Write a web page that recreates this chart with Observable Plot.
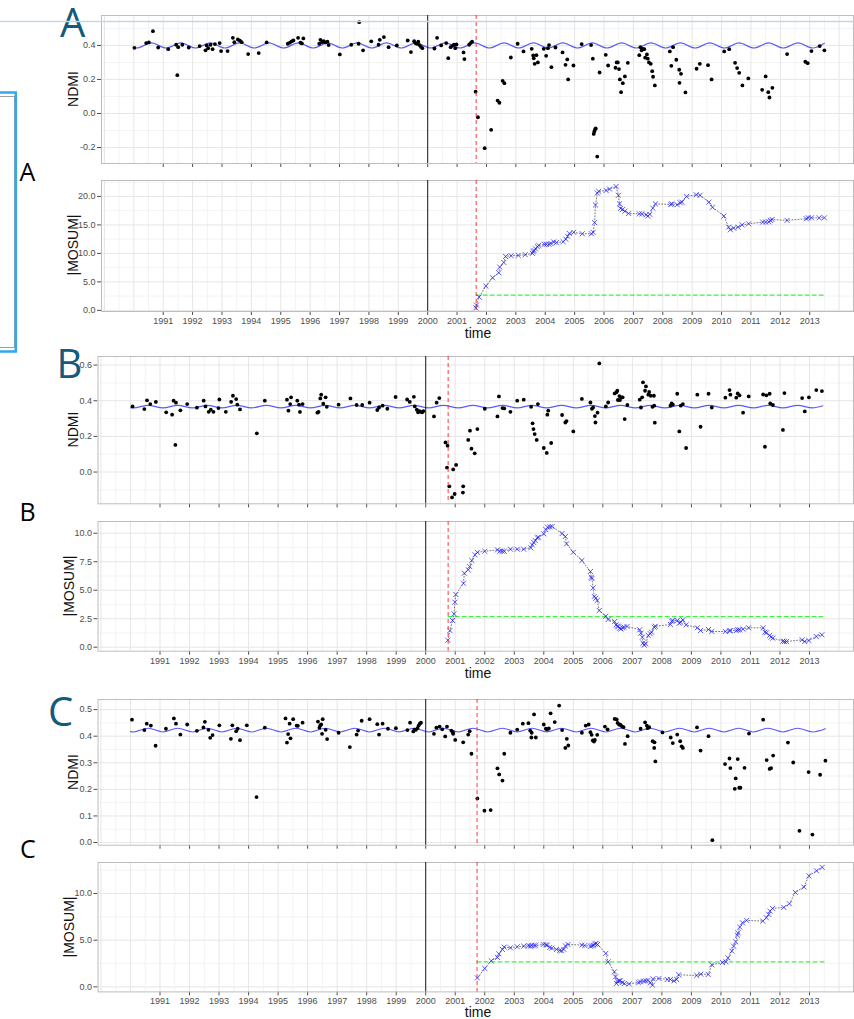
<!DOCTYPE html>
<html><head><meta charset="utf-8">
<script src="https://cdn.jsdelivr.net/npm/d3@7"></script>
<script src="https://cdn.jsdelivr.net/npm/@observablehq/plot@0.6"></script>
<style>
body{margin:0;background:#fff;}
#wrap{position:relative;width:854px;height:1019px;overflow:hidden;background:#fff;font-family:"Liberation Sans",Arial,sans-serif;}
.panel{position:absolute;left:0;}
#overlay{position:absolute;left:0;top:0;pointer-events:none;}
</style></head><body><div id="wrap"></div>
<script>
// ---------- data ----------
const years = [1991,1992,1993,1994,1995,1996,1997,1998,1999,2000,2001,2002,2003,2004,2005,2006,2007,2008,2009,2010,2011,2012,2013];
const gridMajorX = [1989,1990,1991,1992,1993,1994,1995,1996,1997,1998,1999,2000,2001,2002,2003,2004,2005,2006,2007,2008,2009,2010,2011,2012,2013,2014];
const gridMinorX = [1989.5,1990.5,1991.5,1992.5,1993.5,1994.5,1995.5,1996.5,1997.5,1998.5,1999.5,2000.5,2001.5,2002.5,2003.5,2004.5,2005.5,2006.5,2007.5,2008.5,2009.5,2010.5,2011.5,2012.5,2013.5];
const historyEnd = 2000;
const breakA = 2001.65, breakB = 2000.76, breakC = 2001.74;
const boundaryA = [[2001.65,2.68],[2013.5,2.68]];
const boundaryB = [[2000.76,2.68],[2013.45,2.68]];
const boundaryC = [[2001.74,2.68],[2013.54,2.68]];

const ndmiA = [[1990.02,0.386],[1990.42,0.414],[1990.51,0.418],[1990.65,0.484],[1990.83,0.388],
[1991.17,0.378],[1991.44,0.404],[1991.48,0.225],[1991.51,0.39],[1991.65,0.404],[1991.87,0.388],
[1992.24,0.396],[1992.44,0.371],[1992.48,0.4],[1992.53,0.384],[1992.61,0.404],[1992.68,0.378],[1992.76,0.408],[1992.92,0.414],[1992.97,0.367],
[1993.19,0.367],[1993.37,0.445],[1993.42,0.419],[1993.54,0.435],[1993.61,0.428],[1993.67,0.419],[1993.89,0.349],
[1994.25,0.355],[1994.52,0.418],
[1995.24,0.41],[1995.31,0.416],[1995.37,0.424],[1995.43,0.429],[1995.59,0.445],[1995.67,0.416],[1995.72,0.412],[1995.77,0.441],
[1996.31,0.41],[1996.35,0.433],[1996.41,0.419],[1996.46,0.425],[1996.52,0.418],[1996.59,0.422],[1996.63,0.402],
[1997.01,0.347],[1997.40,0.404],[1997.65,0.41],[1997.67,0.537],[1997.80,0.371],
[1998.08,0.424],[1998.33,0.404],[1998.37,0.433],[1998.51,0.449],[1998.67,0.39],[1998.95,0.4],
[1999.32,0.429],[1999.43,0.361],[1999.54,0.425],[1999.58,0.414],[1999.63,0.41],[1999.68,0.422],[1999.72,0.402],[1999.77,0.392],[1999.82,0.384],
[2000.23,0.382],[2000.32,0.445],[2000.46,0.4],[2000.63,0.414],[2000.70,0.325],[2000.78,0.39],[2000.84,0.398],[2000.89,0.404],[2000.94,0.384],[2000.98,0.406],
[2001.22,0.359],[2001.25,0.32],[2001.41,0.404],[2001.46,0.414],[2001.51,0.422],[2001.63,0.128],[2001.71,-0.022],[2001.94,-0.204],
[2002.16,-0.096],[2002.38,0.076],[2002.44,0.063],[2002.55,0.192],[2002.61,0.178],[2002.83,0.329],
[2003.06,0.41],[2003.26,0.365],[2003.54,0.38],[2003.59,0.341],[2003.61,0.324],[2003.64,0.292],[2003.70,0.343],[2003.75,0.3],[2003.95,0.38],
[2004.03,0.339],[2004.09,0.384],[2004.13,0.402],[2004.21,0.272],[2004.35,0.388],[2004.59,0.359],[2004.69,0.286],[2004.75,0.318],[2004.78,0.2],[2004.96,0.282],
[2005.24,0.408],[2005.56,0.402],[2005.62,0.322],[2005.65,-0.12],[2005.67,-0.106],[2005.70,-0.092],[2005.72,-0.088],[2005.77,-0.253],[2005.85,0.241],
[2006.06,0.345],[2006.14,0.282],[2006.39,0.269],[2006.43,0.3],[2006.47,0.3],[2006.51,0.261],[2006.54,0.2],[2006.58,0.125],[2006.64,0.178],[2006.71,0.218],[2006.81,0.298],
[2007.20,0.343],[2007.24,0.39],[2007.28,0.371],[2007.32,0.38],[2007.37,0.378],[2007.40,0.328],[2007.46,0.347],[2007.49,0.322],[2007.53,0.3],[2007.59,0.292],[2007.64,0.249],[2007.67,0.216],[2007.73,0.165],
[2008.24,0.365],[2008.29,0.28],[2008.35,0.39],[2008.46,0.316],[2008.56,0.257],[2008.57,0.18],[2008.62,0.233],[2008.77,0.124],
[2009.15,0.263],[2009.26,0.292],[2009.54,0.284],[2009.66,0.2],
[2010.09,0.365],[2010.26,0.378],[2010.46,0.298],[2010.53,0.267],[2010.60,0.239],[2010.71,0.165],[2010.91,0.206],
[2011.38,0.139],[2011.50,0.218],[2011.59,0.125],[2011.63,0.094],[2011.73,0.151],
[2012.23,0.349],[2012.85,0.304],[2012.93,0.296],[2013.06,0.367],[2013.34,0.396],[2013.50,0.371]];

const mosumA = [[2001.64,0.45],[2001.66,0.93],[2001.75,2.33],[2001.98,4.27],[2002.21,5.73],[2002.42,6.61],[2002.45,7.6],[2002.59,8.42],[2002.65,9.47],[2002.84,9.59],[2003.08,9.65],[2003.32,9.77],[2003.56,10.0],[2003.59,10.3],[2003.62,10.5],[2003.67,10.8],[2003.73,11.2],[2003.78,11.4],[2003.97,11.6],[2004.04,11.6],[2004.13,11.6],[2004.19,11.75],[2004.29,12.0],[2004.38,11.9],[2004.61,12.05],[2004.70,12.5],[2004.76,13.0],[2004.82,13.5],[2004.97,13.7],[2005.26,13.45],[2005.57,13.45],[2005.63,13.7],[2005.68,15.4],[2005.71,18.5],[2005.77,20.6],[2005.82,20.9],[2006.07,21.05],[2006.19,21.3],[2006.41,21.75],[2006.49,20.2],[2006.53,18.7],[2006.56,17.9],[2006.63,17.7],[2006.71,17.4],[2006.84,17.0],[2007.20,16.95],[2007.29,16.95],[2007.43,16.8],[2007.49,16.55],[2007.56,16.85],[2007.66,17.95],[2007.75,18.7],[2008.27,18.6],[2008.31,18.7],[2008.49,18.55],[2008.59,18.9],[2008.65,19.0],[2008.81,20.0],[2009.14,20.3],[2009.27,20.2],[2009.57,19.0],[2009.69,18.1],[2010.08,16.55],[2010.24,14.6],[2010.30,14.15],[2010.41,14.45],[2010.56,14.6],[2010.70,15.0],[2010.92,15.2],[2011.40,15.5],[2011.50,15.5],[2011.61,15.55],[2011.66,15.8],[2011.72,15.95],[2012.23,15.8],[2012.88,16.1],[2012.95,16.25],[2013.06,16.25],[2013.32,16.25],[2013.50,16.25]];

const ndmiB = [[1990.07,0.368],[1990.47,0.353],[1990.56,0.402],[1990.67,0.381],[1990.86,0.393],
[1991.21,0.335],[1991.41,0.322],[1991.46,0.4],[1991.52,0.152],[1991.54,0.389],[1991.69,0.346],[1991.92,0.381],
[1992.25,0.361],[1992.48,0.4],[1992.54,0.368],[1992.65,0.338],[1992.72,0.35],[1992.81,0.338],[1992.98,0.359],[1993.01,0.407],
[1993.23,0.338],[1993.41,0.394],[1993.47,0.428],[1993.58,0.409],[1993.62,0.378],[1993.71,0.351],
[1994.28,0.217],[1994.55,0.4],
[1995.30,0.406],[1995.35,0.344],[1995.41,0.381],[1995.44,0.419],[1995.65,0.4],[1995.71,0.378],[1995.74,0.337],[1995.83,0.381],
[1996.33,0.333],[1996.37,0.337],[1996.43,0.413],[1996.46,0.434],[1996.53,0.383],[1996.61,0.419],[1996.65,0.366],
[1997.05,0.378],[1997.45,0.413],[1997.66,0.376],[1997.85,0.376],[1998.10,0.389],
[1998.36,0.348],[1998.42,0.362],[1998.54,0.372],[1998.70,0.355],[1998.98,0.421],
[1999.37,0.407],[1999.46,0.393],[1999.60,0.422],[1999.63,0.368],[1999.70,0.35],[1999.74,0.335],[1999.79,0.342],[1999.83,0.338],[1999.88,0.335],[1999.92,0.342],
[2000.28,0.312],[2000.37,0.389],[2000.46,0.415],[2000.67,0.166],[2000.74,0.148],[2000.72,0.025],[2000.80,-0.08],[2000.89,-0.142],[2000.93,0.015],[2000.98,-0.123],[2001.03,0.04],
[2001.26,-0.115],[2001.27,-0.08],[2001.44,0.18],[2001.50,0.232],[2001.55,0.131],[2001.66,0.105],[2001.75,0.241],
[2002.0,0.355],[2002.43,0.312],[2002.48,0.424],[2002.60,0.359],[2002.66,0.357],[2002.87,0.338],
[2003.10,0.4],[2003.32,0.406],[2003.57,0.366],[2003.62,0.273],[2003.65,0.241],[2003.69,0.213],[2003.76,0.18],[2003.80,0.381],[2004.0,0.135],[2004.10,0.107],[2004.12,0.322],[2004.15,0.344],[2004.25,0.163],
[2004.62,0.32],[2004.73,0.278],[2004.77,0.286],[2005.0,0.228],
[2005.29,0.41],[2005.58,0.39],[2005.63,0.355],[2005.67,0.362],[2005.73,0.314],[2005.75,0.278],[2005.82,0.333],[2005.88,0.609],
[2006.10,0.368],[2006.18,0.39],[2006.40,0.441],[2006.46,0.447],[2006.49,0.456],[2006.51,0.404],[2006.56,0.426],[2006.58,0.404],[2006.64,0.419],[2006.67,0.419],[2006.74,0.297],[2006.83,0.376],
[2007.25,0.406],[2007.29,0.362],[2007.33,0.419],[2007.36,0.503],[2007.43,0.456],[2007.46,0.48],[2007.54,0.434],[2007.57,0.449],[2007.62,0.428],[2007.68,0.366],[2007.73,0.428],[2007.74,0.372],[2007.76,0.277],
[2008.29,0.372],[2008.33,0.385],[2008.37,0.378],[2008.52,0.439],[2008.59,0.228],[2008.64,0.372],[2008.71,0.381],[2008.82,0.135],
[2009.20,0.434],[2009.31,0.254],[2009.58,0.439],[2009.69,0.362],
[2010.15,0.417],[2010.29,0.46],[2010.32,0.434],[2010.52,0.417],[2010.57,0.441],[2010.63,0.43],[2010.75,0.333],[2010.94,0.424],
[2011.43,0.435],[2011.49,0.142],[2011.54,0.43],[2011.65,0.439],[2011.67,0.385],[2011.76,0.376],
[2012.10,0.236],[2012.15,0.443],[2012.75,0.415],[2012.84,0.34],[2012.98,0.419],[2013.23,0.46],[2013.42,0.454]];

const mosumB = [[2000.75,0.61],[2000.82,1.46],[2000.91,2.34],[2000.96,2.93],[2000.99,3.95],[2001.02,4.62],[2001.28,5.61],[2001.31,6.49],[2001.44,6.79],[2001.49,7.08],[2001.56,7.61],[2001.67,8.11],[2001.75,8.33],[2002.0,8.42],[2002.43,8.54],[2002.51,8.42],[2002.59,8.42],[2002.66,8.42],[2002.87,8.6],[2003.10,8.6],[2003.32,8.6],[2003.56,8.72],[2003.61,8.98],[2003.66,9.18],[2003.71,9.36],[2003.78,9.6],[2003.82,9.65],[2004.0,9.95],[2004.07,10.32],[2004.13,10.53],[2004.21,10.56],[2004.28,10.59],[2004.62,9.97],[2004.73,9.71],[2004.77,9.07],[2005.0,8.33],[2005.29,7.61],[2005.58,6.64],[2005.61,6.14],[2005.63,6.03],[2005.67,5.21],[2005.71,4.45],[2005.76,4.3],[2005.81,4.1],[2005.88,3.22],[2006.10,2.72],[2006.18,2.43],[2006.40,2.25],[2006.45,1.96],[2006.49,1.84],[2006.52,1.82],[2006.57,1.67],[2006.61,1.61],[2006.67,1.7],[2006.72,1.75],[2006.82,1.82],[2007.25,1.53],[2007.29,1.23],[2007.34,0.88],[2007.36,0.35],[2007.40,0.18],[2007.45,0.3],[2007.54,1.03],[2007.61,1.18],[2007.65,1.32],[2007.74,1.75],[2007.78,1.84],[2008.29,1.99],[2008.33,2.28],[2008.37,2.34],[2008.52,2.34],[2008.59,2.11],[2008.64,2.19],[2008.71,2.4],[2008.82,1.96],[2009.20,1.7],[2009.31,1.46],[2009.58,1.55],[2009.69,1.38],[2010.15,1.38],[2010.29,1.44],[2010.32,1.46],[2010.52,1.46],[2010.57,1.53],[2010.63,1.53],[2010.75,1.58],[2010.94,1.7],[2011.43,1.7],[2011.49,1.32],[2011.54,1.26],[2011.65,1.03],[2011.70,0.88],[2011.76,0.79],[2012.10,0.53],[2012.15,0.5],[2012.22,0.5],[2012.75,0.65],[2012.84,0.5],[2012.98,0.59],[2013.23,0.94],[2013.42,1.09]];

const ndmiC = [[1990.05,0.462],[1990.47,0.423],[1990.55,0.447],[1990.69,0.44],[1990.85,0.364],
[1991.20,0.428],[1991.47,0.467],[1991.54,0.447],[1991.69,0.406],[1991.92,0.444],
[1992.25,0.42],[1992.47,0.433],[1992.52,0.454],[1992.64,0.424],[1992.70,0.394],[1992.78,0.404],[1993.01,0.441],
[1993.40,0.39],[1993.45,0.441],[1993.58,0.419],[1993.63,0.428],[1993.71,0.385],[1993.94,0.441],
[1994.27,0.171],[1994.55,0.432],
[1995.25,0.467],[1995.30,0.376],[1995.34,0.408],[1995.39,0.447],[1995.42,0.392],[1995.51,0.464],[1995.63,0.44],[1995.67,0.439],[1995.83,0.451],
[1996.35,0.455],[1996.40,0.432],[1996.43,0.441],[1996.46,0.444],[1996.49,0.409],[1996.51,0.464],[1996.61,0.424],[1996.66,0.389],
[1997.05,0.413],[1997.43,0.359],[1997.66,0.406],[1997.71,0.421],[1997.83,0.458],
[1998.10,0.464],[1998.36,0.445],[1998.42,0.406],[1998.54,0.447],[1998.72,0.428],[1998.99,0.43],
[1999.38,0.423],[1999.47,0.451],[1999.58,0.418],[1999.62,0.425],[1999.67,0.424],[1999.72,0.43],[1999.76,0.44],[1999.80,0.447],[1999.84,0.451],
[2000.28,0.409],[2000.36,0.432],[2000.47,0.436],[2000.56,0.426],[2000.66,0.399],[2000.72,0.436],[2000.87,0.421],[2000.92,0.415],[2000.93,0.409],[2001.0,0.386],
[2001.27,0.377],[2001.44,0.406],[2001.49,0.419],[2001.55,0.334],[2001.75,0.166],
[2001.99,0.12],[2002.20,0.122],[2002.43,0.279],[2002.49,0.256],[2002.60,0.233],[2002.66,0.334],[2002.87,0.413],
[2003.10,0.425],[2003.29,0.447],[2003.48,0.449],[2003.54,0.421],[2003.58,0.395],[2003.59,0.413],[2003.67,0.482],[2003.73,0.395],
[2004.0,0.444],[2004.07,0.428],[2004.11,0.425],[2004.17,0.429],[2004.23,0.486],[2004.37,0.453],[2004.52,0.515],[2004.62,0.423],[2004.73,0.356],[2004.78,0.39],[2004.83,0.365],
[2005.29,0.413],[2005.42,0.44],[2005.52,0.444],[2005.58,0.415],[2005.62,0.405],[2005.66,0.384],[2005.70,0.38],[2005.73,0.386],[2005.81,0.405],
[2006.07,0.436],[2006.16,0.426],[2006.40,0.465],[2006.47,0.463],[2006.50,0.45],[2006.55,0.444],[2006.59,0.443],[2006.64,0.438],[2006.70,0.434],[2006.75,0.371],[2006.84,0.4],
[2007.28,0.428],[2007.43,0.452],[2007.49,0.44],[2007.52,0.43],[2007.57,0.434],[2007.69,0.381],[2007.74,0.356],[2007.75,0.377],[2007.78,0.305],
[2008.02,0.414],[2008.30,0.395],[2008.37,0.374],[2008.52,0.406],[2008.62,0.381],[2008.67,0.362],[2008.71,0.356],
[2009.19,0.433],[2009.31,0.346],[2009.58,0.4],[2009.71,0.009],
[2010.14,0.295],[2010.29,0.316],[2010.32,0.28],[2010.47,0.202],[2010.50,0.241],[2010.57,0.314],[2010.62,0.206],[2010.66,0.206],[2010.80,0.281],[2010.95,0.41],
[2011.43,0.462],[2011.55,0.31],[2011.65,0.277],[2011.70,0.28],[2011.77,0.327],
[2012.27,0.376],[2012.45,0.301],[2012.66,0.044],[2012.97,0.265],[2013.10,0.03],[2013.36,0.255],[2013.54,0.308]];

const mosumC = [[2001.75,0.96],[2002.0,1.97],[2002.22,2.79],[2002.43,3.15],[2002.48,3.54],[2002.60,4.01],[2002.66,4.26],[2002.87,4.18],[2003.10,4.29],[2003.32,4.36],[2003.48,4.4],[2003.54,4.36],[2003.59,4.43],[2003.67,4.43],[2003.73,4.43],[2003.98,4.54],[2004.07,4.5],[2004.12,4.47],[2004.20,4.22],[2004.27,4.15],[2004.43,4.01],[2004.54,3.9],[2004.60,3.86],[2004.68,4.01],[2004.73,4.39],[2004.82,4.54],[2005.29,4.47],[2005.39,4.43],[2005.58,4.36],[2005.64,4.39],[2005.68,4.47],[2005.73,4.58],[2005.77,4.65],[2005.82,4.54],[2006.10,3.58],[2006.18,2.68],[2006.39,1.61],[2006.43,1.07],[2006.46,0.36],[2006.50,0.61],[2006.55,0.64],[2006.59,0.64],[2006.66,0.47],[2006.73,0.36],[2006.89,0.32],[2007.20,0.47],[2007.27,0.54],[2007.38,0.61],[2007.45,0.64],[2007.53,0.69],[2007.61,0.43],[2007.68,0.18],[2007.70,0.86],[2007.90,0.9],[2008.18,0.79],[2008.29,0.79],[2008.41,0.64],[2008.50,0.79],[2008.57,1.29],[2009.18,1.22],[2009.32,1.36],[2009.57,1.33],[2009.69,2.36],[2010.05,2.61],[2010.17,2.68],[2010.24,3.11],[2010.37,3.83],[2010.43,4.36],[2010.50,4.82],[2010.56,5.54],[2010.58,5.79],[2010.64,6.4],[2010.73,6.86],[2010.87,7.12],[2011.42,7.04],[2011.54,7.4],[2011.62,7.76],[2011.66,8.11],[2011.75,8.4],[2012.13,8.51],[2012.32,8.9],[2012.52,10.12],[2012.81,10.69],[2012.98,11.9],[2013.24,12.43],[2013.43,12.8]];

// fitted seasonal model, read at troughs and peaks
const waveA = [[1990.0,0.386],[1990.1,0.385],[1990.6,0.415],[1991.1,0.385],[1991.6,0.415],[1992.1,0.385],[1992.6,0.415],[1993.1,0.385],[1993.6,0.415],[1994.1,0.385],[1994.6,0.415],[1995.1,0.385],[1995.6,0.415],[1996.1,0.385],[1996.6,0.415],[1997.1,0.385],[1997.6,0.415],[1998.1,0.385],[1998.6,0.415],[1999.1,0.385],[1999.6,0.415],[2000.1,0.385],[2000.6,0.415],[2001.1,0.385],[2001.6,0.415],[2002.1,0.385],[2002.6,0.415],[2003.1,0.385],[2003.6,0.415],[2004.1,0.385],[2004.6,0.415],[2005.1,0.385],[2005.6,0.415],[2006.1,0.385],[2006.6,0.415],[2007.1,0.385],[2007.6,0.415],[2008.1,0.385],[2008.6,0.415],[2009.1,0.385],[2009.6,0.415],[2010.1,0.385],[2010.6,0.415],[2011.1,0.385],[2011.6,0.415],[2012.1,0.385],[2012.6,0.415],[2013.1,0.385],[2013.5,0.413]];
const waveB = [[1990.0,0.361],[1990.1,0.360],[1990.6,0.374],[1991.1,0.360],[1991.6,0.374],[1992.1,0.360],[1992.6,0.374],[1993.1,0.360],[1993.6,0.374],[1994.1,0.360],[1994.6,0.374],[1995.1,0.360],[1995.6,0.374],[1996.1,0.360],[1996.6,0.374],[1997.1,0.360],[1997.6,0.374],[1998.1,0.360],[1998.6,0.374],[1999.1,0.360],[1999.6,0.374],[2000.1,0.360],[2000.6,0.374],[2001.1,0.360],[2001.6,0.374],[2002.1,0.360],[2002.6,0.374],[2003.1,0.360],[2003.6,0.374],[2004.1,0.360],[2004.6,0.374],[2005.1,0.360],[2005.6,0.374],[2006.1,0.360],[2006.6,0.374],[2007.1,0.360],[2007.6,0.374],[2008.1,0.360],[2008.6,0.374],[2009.1,0.360],[2009.6,0.374],[2010.1,0.360],[2010.6,0.374],[2011.1,0.360],[2011.6,0.374],[2012.1,0.360],[2012.6,0.374],[2013.1,0.360],[2013.45,0.372]];
const waveC = [[1990.0,0.417],[1990.1,0.416],[1990.6,0.430],[1991.1,0.416],[1991.6,0.430],[1992.1,0.416],[1992.6,0.430],[1993.1,0.416],[1993.6,0.430],[1994.1,0.416],[1994.6,0.430],[1995.1,0.416],[1995.6,0.430],[1996.1,0.416],[1996.6,0.430],[1997.1,0.416],[1997.6,0.430],[1998.1,0.416],[1998.6,0.430],[1999.1,0.416],[1999.6,0.430],[2000.1,0.416],[2000.6,0.430],[2001.1,0.416],[2001.6,0.430],[2002.1,0.416],[2002.6,0.430],[2003.1,0.416],[2003.6,0.430],[2004.1,0.416],[2004.6,0.430],[2005.1,0.416],[2005.6,0.430],[2006.1,0.416],[2006.6,0.430],[2007.1,0.416],[2007.6,0.430],[2008.1,0.416],[2008.6,0.430],[2009.1,0.416],[2009.6,0.430],[2010.1,0.416],[2010.6,0.430],[2011.1,0.416],[2011.6,0.430],[2012.1,0.416],[2012.6,0.430],[2013.1,0.416],[2013.54,0.428]];

// ---------- drawing ----------
const wrap = document.getElementById("wrap");
const xDomain = [1988.9, 2014.49];
const X = d => d[0], Y = d => d[1];

function panel(cfg) {
  const mt = 6, mb = cfg.labels ? 16 : 8;
  const h = cfg.bottom - cfg.top + mt + mb;
  const marks = [
    Plot.ruleX(gridMinorX, {stroke: "#f3f3f3"}),
    Plot.ruleY(cfg.yMinor, {stroke: "#f3f3f3"}),
    Plot.ruleX(gridMajorX, {stroke: "#e6e6e6"}),
    Plot.ruleY(cfg.yTicks, {stroke: "#e6e6e6"}),
    Plot.frame({stroke: "#bdbdbd"}),
    Plot.ruleX([historyEnd], {stroke: "#1a1a1a", strokeWidth: 1}),
    ...cfg.marks,
    Plot.ruleX([cfg.brk], {stroke: "#ff2020", strokeOpacity: 0.8, strokeDasharray: "4,3", strokeWidth: 1.1})
  ];
  const svg = Plot.plot({
    width: 854, height: h,
    marginLeft: cfg.left, marginRight: 1, marginTop: mt, marginBottom: mb,
    x: {domain: xDomain, ticks: years, tickSize: 4, tickPadding: 2,
        tickFormat: cfg.labels ? (d => String(d)) : (() => ""), label: null},
    y: {domain: cfg.yDomain, ticks: cfg.yTicks, tickSize: 4, tickPadding: 2,
        tickFormat: d => d.toFixed(1), label: null},
    style: {fontFamily: "'Liberation Sans', Arial, sans-serif", fontSize: "9px", color: "#4d4d4d", background: "transparent", overflow: "visible"},
    marks
  });
  const div = document.createElement("div");
  div.className = "panel";
  div.style.top = (cfg.top - mt) + "px";
  div.appendChild(svg);
  wrap.appendChild(div);
}

function ndmiMarks(points, wave) {
  return [
    Plot.line(wave, {x: X, y: Y, stroke: "#0000ff", strokeOpacity: 0.65, strokeWidth: 1.1, curve: "monotone-x"}),
    Plot.dot(points, {x: X, y: Y, r: 1.9, fill: "#000"})
  ];
}
function mosumMarks(points, boundary) {
  return [
    Plot.line(boundary, {x: X, y: Y, stroke: "#00ee00", strokeOpacity: 0.75, strokeWidth: 1.2, strokeDasharray: "4,3"}),
    Plot.line(points, {x: X, y: Y, stroke: "#555", strokeOpacity: 0.8, strokeWidth: 1, strokeDasharray: "1,2"}),
    Plot.dot(points, {x: X, y: Y, symbol: "times", r: 2.4, stroke: "#2020ff", strokeOpacity: 0.75, strokeWidth: 1})
  ];
}

panel({top: 15, bottom: 163, left: 101, yDomain: [-0.294, 0.576], yTicks: [-0.2, 0, 0.2, 0.4], yMinor: [-0.1, 0.1, 0.3, 0.5], brk: breakA, labels: false, marks: ndmiMarks(ndmiA, waveA)});
panel({top: 180, bottom: 311, left: 101, yDomain: [-0.2, 22.8], yTicks: [0, 5, 10, 15, 20], yMinor: [2.5, 7.5, 12.5, 17.5, 22.5], brk: breakA, labels: true, marks: mosumMarks(mosumA, boundaryA)});
panel({top: 355.7, bottom: 503, left: 97.5, yDomain: [-0.178, 0.648], yTicks: [0, 0.2, 0.4, 0.6], yMinor: [-0.1, 0.1, 0.3, 0.5], brk: breakB, labels: false, marks: ndmiMarks(ndmiB, waveB)});
panel({top: 521, bottom: 650.7, left: 97.5, yDomain: [-0.35, 11.03], yTicks: [0, 2.5, 5, 7.5, 10], yMinor: [1.25, 3.75, 6.25, 8.75], brk: breakB, labels: true, marks: mosumMarks(mosumB, boundaryB)});
panel({top: 699.3, bottom: 845, left: 97.5, yDomain: [-0.01, 0.538], yTicks: [0, 0.1, 0.2, 0.3, 0.4, 0.5], yMinor: [0.05, 0.15, 0.25, 0.35, 0.45], brk: breakC, labels: false, marks: ndmiMarks(ndmiC, waveC)});
panel({top: 862.3, bottom: 991.7, left: 97.5, yDomain: [-0.54, 13.32], yTicks: [0, 5, 10], yMinor: [2.5, 7.5, 12.5], brk: breakC, labels: true, marks: mosumMarks(mosumC, boundaryC)});

// ---------- titles and figure decorations ----------
const NS = "http://www.w3.org/2000/svg";
const ov = document.createElementNS(NS, "svg");
ov.setAttribute("id", "overlay");
ov.setAttribute("width", 854); ov.setAttribute("height", 1019);
function el(tag, attrs, text) {
  const e = document.createElementNS(NS, tag);
  for (const k in attrs) e.setAttribute(k, attrs[k]);
  if (text != null) e.textContent = text;
  ov.appendChild(e);
  return e;
}
const yTitles = [["NDMI", 77.5, 89], ["|MOSUM|", 77.5, 245], ["NDMI", 78, 429.5], ["|MOSUM|", 74, 586], ["NDMI", 78, 772], ["|MOSUM|", 74, 927]];
for (const [t, x, y] of yTitles) {
  el("text", {transform: `translate(${x},${y}) rotate(-90)`, "text-anchor": "middle", "font-family": "'Liberation Sans', Arial, sans-serif", "font-size": 14, fill: "#111"}, t);
}
for (const y of [337.5, 677.5, 1017]) {
  el("text", {x: 478, y, "text-anchor": "middle", "font-family": "'Liberation Sans', Arial, sans-serif", "font-size": 14, fill: "#111"}, "time");
}
// big teal panel letters
for (const [t, x, y] of [["A", 60, 37], ["B", 56.5, 378], ["C", 48, 725.5]]) {
  el("text", {x, y, "font-family": "'Open Sans', sans-serif", "font-size": 40, fill: "#145a7a"}, t);
}
// black side letters
for (const [t, x, y] of [["A", 19.5, 181], ["B", 19.5, 521], ["C", 20, 858]]) {
  el("text", {x, y, "font-family": "'Open Sans', sans-serif", "font-size": 25, fill: "#000"}, t);
}
// light blue guide line across the top
el("line", {x1: 0, x2: 854, y1: 21.5, y2: 21.5, stroke: "#c3d8e4", "stroke-width": 1.5});
// blue framed box at the left edge
el("rect", {x: -10, y: 96.5, width: 24.5, height: 251, fill: "none", stroke: "#a0a0a0", "stroke-width": 1});
el("rect", {x: -10, y: 92.5, width: 25.8, height: 259, fill: "none", stroke: "#2ea8ee", "stroke-width": 2.5});
wrap.appendChild(ov);
</script>
</body></html>
